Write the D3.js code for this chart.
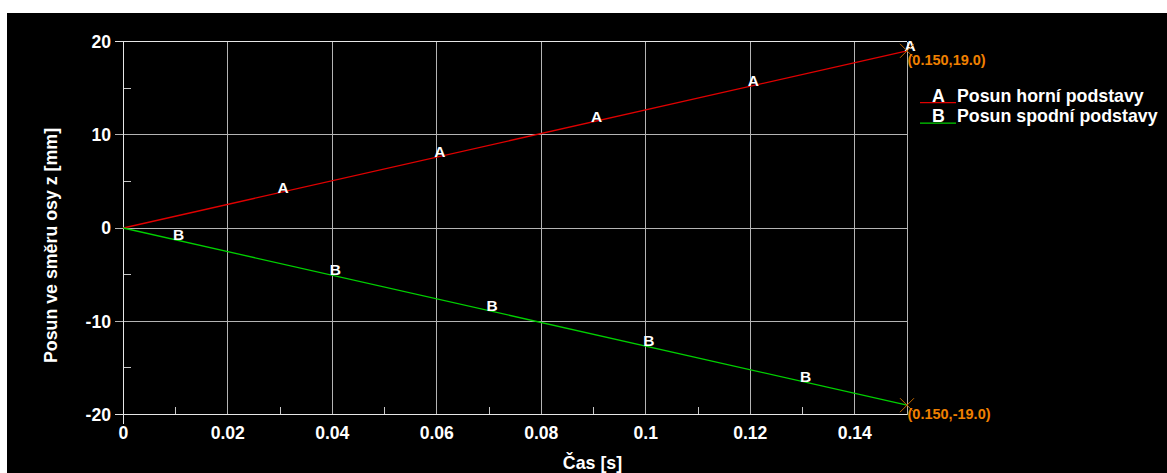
<!DOCTYPE html>
<html>
<head>
<meta charset="utf-8">
<script src="https://cdn.jsdelivr.net/npm/d3@7"></script>
<style>
  html, body { margin: 0; padding: 0; background: #ffffff; }
  svg { display: block; }
  text { font-family: "Liberation Sans", Arial, sans-serif; font-weight: bold; }
</style>
</head>
<body>
<svg id="chart" width="1167" height="473"></svg>
<script>
// Time axis (s) and the two displacement series (mm)
const time = [0, 0.15];
const posunHorni = [0, 19.0];
const posunSpodni = [0, -19.0];

// Where the series letters sit along each line
const markerTimesA = [0.03, 0.06, 0.09, 0.12, 0.15];
const markerTimesB = [0.01, 0.04, 0.07, 0.10, 0.13];

// Axis ticks
const xTicks = [0, 0.02, 0.04, 0.06, 0.08, 0.1, 0.12, 0.14];
const xTickLabels = ["0", "0.02", "0.04", "0.06", "0.08", "0.1", "0.12", "0.14"];
const xMinorTicks = [0.01, 0.03, 0.05, 0.07, 0.09, 0.11, 0.13];
const yTicks = [-20, -10, 0, 10, 20];
const yTickLabels = ["-20", "-10", "0", "10", "20"];
const yMinorTicks = [-15, -5, 5, 15];

const seriesNames = ["Posun horní podstavy", "Posun spodní podstavy"];
const seriesLetters = ["A", "B"];
const seriesColors = ["#e00000", "#00d000"];
const endLabels = ["(0.150,19.0)", "(0.150,-19.0)"];

const svg = d3.select("#chart");

// black panel
svg.append("rect").attr("x", 7).attr("y", 13).attr("width", 1160).attr("height", 460).attr("fill", "#000");

const x = d3.scaleLinear().domain([0, 0.15]).range([123.3, 907]);
const y = d3.scaleLinear().domain([-20, 20]).range([414.5, 41.5]);

const g = svg.append("g");

// grid lines
g.selectAll("line.vgrid").data(xTicks.slice(1).concat([0.15])).join("line")
  .attr("x1", d => x(d)).attr("x2", d => x(d))
  .attr("y1", y(20)).attr("y2", y(-20))
  .attr("stroke", "#b4b4b4").attr("stroke-width", 1).attr("shape-rendering", "crispEdges");
g.selectAll("line.hgrid").data(yTicks.slice(1)).join("line")
  .attr("x1", x(0) - 8).attr("x2", x(0.15))
  .attr("y1", d => y(d)).attr("y2", d => y(d))
  .attr("stroke", "#b4b4b4").attr("stroke-width", 1).attr("shape-rendering", "crispEdges");

// minor ticks
g.selectAll("line.xminor").data(xMinorTicks).join("line")
  .attr("x1", d => x(d)).attr("x2", d => x(d))
  .attr("y1", y(-20)).attr("y2", y(-20) - 8)
  .attr("stroke", "#c8c8c8").attr("shape-rendering", "crispEdges");
g.selectAll("line.yminor").data(yMinorTicks).join("line")
  .attr("x1", x(0)).attr("x2", x(0) + 8)
  .attr("y1", d => y(d)).attr("y2", d => y(d))
  .attr("stroke", "#c8c8c8").attr("shape-rendering", "crispEdges");

// axes
g.append("line").attr("x1", x(0)).attr("x2", x(0)).attr("y1", y(20)).attr("y2", y(-20) + 9)
  .attr("stroke", "#e6e6e6").attr("shape-rendering", "crispEdges");
g.append("line").attr("x1", x(0) - 8).attr("x2", x(0.15)).attr("y1", y(-20)).attr("y2", y(-20))
  .attr("stroke", "#e6e6e6").attr("shape-rendering", "crispEdges");
g.append("line").attr("x1", x(0) - 8).attr("x2", x(0.15)).attr("y1", y(20)).attr("y2", y(20))
  .attr("stroke", "#e6e6e6").attr("shape-rendering", "crispEdges");

// tick labels
g.selectAll("text.xt").data(xTicks).join("text")
  .attr("x", (d, i) => x(d)).attr("y", 438.5)
  .attr("text-anchor", "middle").attr("font-size", 17.6).attr("fill", "#fff")
  .text((d, i) => xTickLabels[i]);
g.selectAll("text.yt").data(yTicks).join("text")
  .attr("x", 111).attr("y", d => y(d)).attr("dy", "0.36em")
  .attr("text-anchor", "end").attr("font-size", 17.6).attr("fill", "#fff")
  .text((d, i) => yTickLabels[i]);

// axis titles
svg.append("text").attr("x", 592.5).attr("y", 468.5).attr("text-anchor", "middle")
  .attr("font-size", 17.8).attr("fill", "#fff").text("Čas [s]");
svg.append("text").attr("transform", "translate(57,245.5) rotate(-90)").attr("text-anchor", "middle")
  .attr("font-size", 17.8).attr("fill", "#fff").text("Posun ve směru osy z [mm]");

// series lines
const series = [posunHorni, posunSpodni];
const line = d3.line().x(d => x(d[0])).y(d => y(d[1]));
series.forEach((vals, i) => {
  const pts = time.map((t, k) => [t, vals[k]]);
  g.append("path").datum(pts).attr("d", line)
    .attr("fill", "none").attr("stroke", seriesColors[i]).attr("stroke-width", 1.3);
});

// series letters placed on their lines
const onLine = (vals, t) => d3.scaleLinear().domain(time).range(vals)(t);
[markerTimesA, markerTimesB].forEach((ts, i) => {
  g.selectAll("text.m" + i).data(ts).join("text")
    .attr("x", t => x(t) + 3).attr("y", t => y(onLine(series[i], t)))
    .attr("text-anchor", "middle").attr("font-size", 15.5).attr("fill", "#fff")
    .text(seriesLetters[i]);
});

// end-point crosshair and value annotation
series.forEach((vals, i) => {
  const px = x(time[1]), py = y(vals[1]);
  const s = 7;
  g.append("path")
    .attr("d", `M${px - s},${py - s}L${px + s},${py + s}M${px - s},${py + s}L${px + s},${py - s}`)
    .attr("stroke", "#c06800").attr("stroke-width", 1).attr("fill", "none");
  g.append("text").attr("x", px + 0.5).attr("y", py + 14.3)
    .attr("font-size", 14.5).attr("fill", "#f08000").text(endLabels[i]);
});

// legend
const legend = svg.append("g");
seriesNames.forEach((name, i) => {
  const ly = 102.7 + i * 20.5;
  legend.append("line").attr("x1", 920).attr("x2", 956).attr("y1", ly).attr("y2", ly)
    .attr("stroke", seriesColors[i]).attr("stroke-width", 1.3);
  legend.append("text").attr("x", 938.5).attr("y", ly - 1).attr("text-anchor", "middle")
    .attr("font-size", 17.8).attr("fill", "#fff").text(seriesLetters[i]);
  legend.append("text").attr("x", 957).attr("y", ly - 1)
    .attr("font-size", 17.8).attr("fill", "#fff").text(name);
});
</script>
</body>
</html>
